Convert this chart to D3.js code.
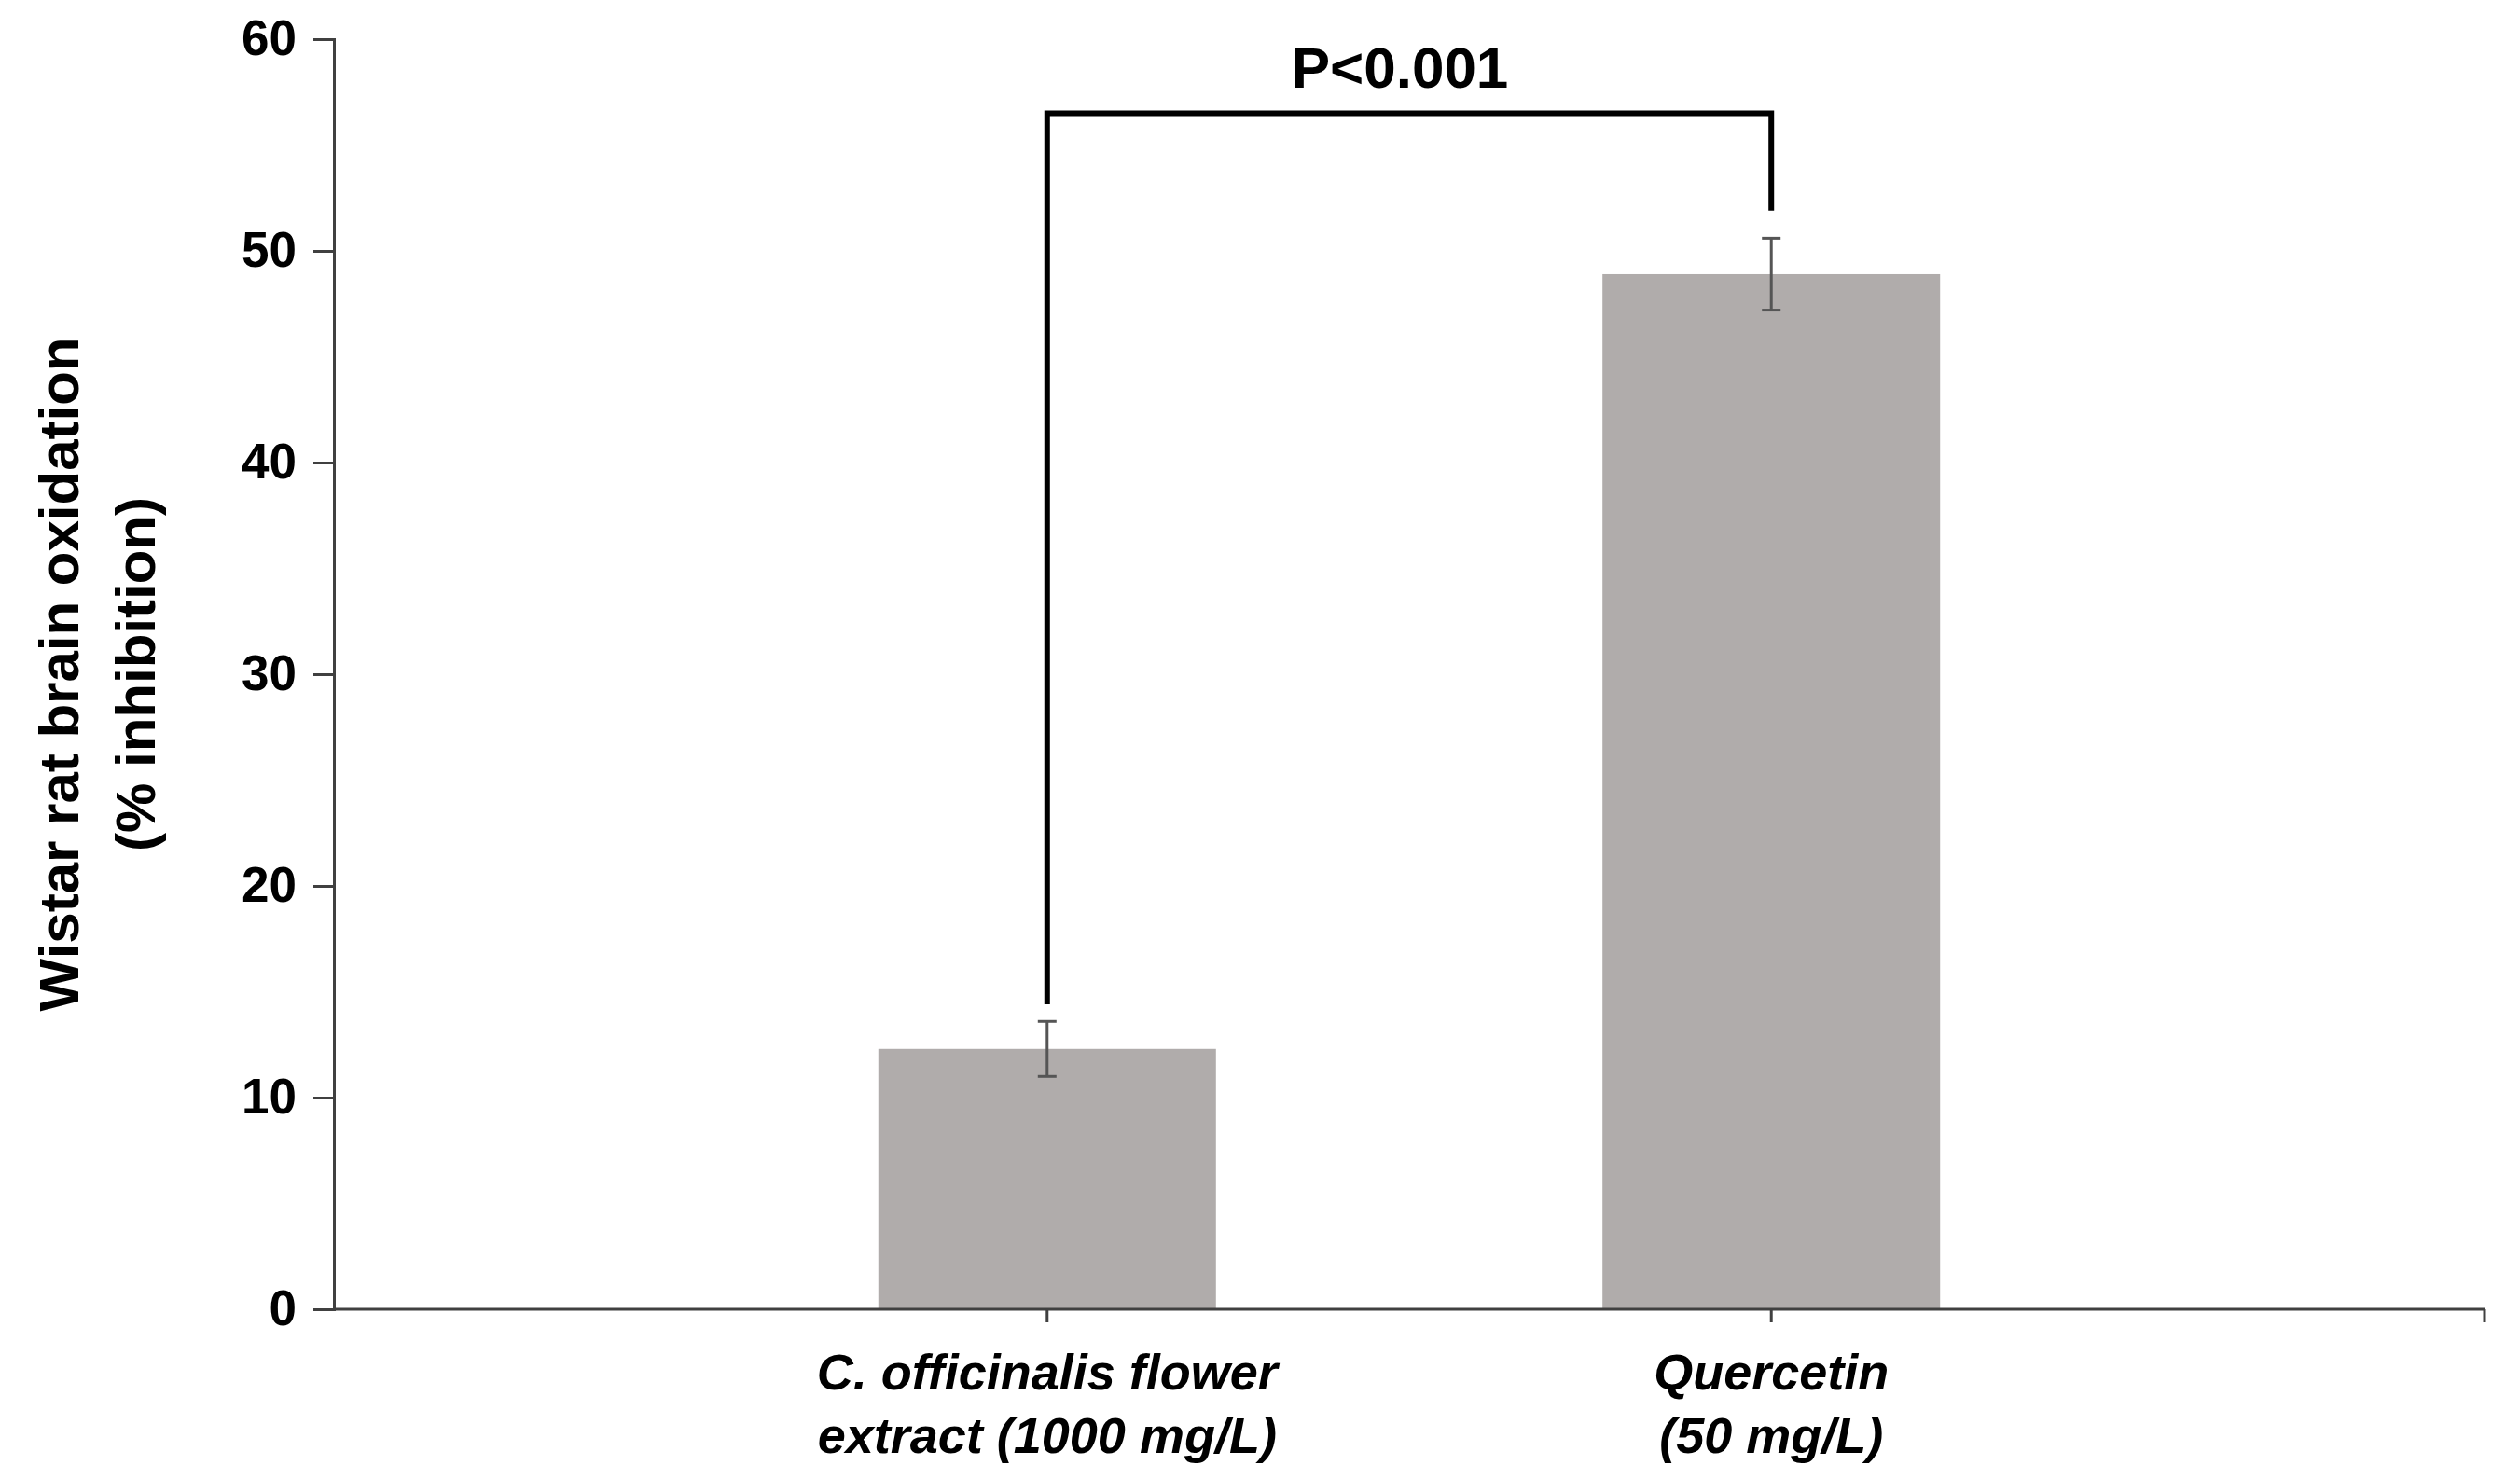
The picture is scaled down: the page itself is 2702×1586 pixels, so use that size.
<!DOCTYPE html>
<html>
<head>
<meta charset="utf-8">
<script src="https://cdn.jsdelivr.net/npm/d3@7"></script>
<style>
  body { margin: 0; background: #fff; }
  text { font-family: "Liberation Sans", Arial, sans-serif; font-weight: bold; }
</style>
</head>
<body>
<div id="chart"></div>
<script>
const categories = ["C. officinalis flower|extract (1000 mg/L)", "Quercetin|(50 mg/L)"];
const values = [12.3, 48.9];
const errors = [1.3, 1.7];
const yTicks = [0, 10, 20, 30, 40, 50, 60];
const bracket = { level: 56.5, leftEnd: 14.4, rightEnd: 51.9, label: "P<0.001" };

const W = 2702, H = 1586;
const margin = { left: 358, right: 38, top: 42, bottom: 187 };
const xEnd = W - margin.right;

const svg = d3.select("#chart").append("svg").attr("width", W).attr("height", H);

// category centres; outer padding chosen so the bars sit as in the figure
const x = d3.scalePoint().domain(categories).range([margin.left, xEnd]).padding(0.985);
const y = d3.scaleLinear().domain([0, 60]).range([H - 182, margin.top]);
const barW = 362;
const cx = d => x(d);

// bars
svg.selectAll("rect.bar").data(categories).enter().append("rect")
  .attr("x", d => cx(d) - barW / 2)
  .attr("y", (d, i) => y(values[i]))
  .attr("width", barW)
  .attr("height", (d, i) => y(0) - y(values[i]))
  .attr("fill", "#b0acab");

// error bars
const eb = svg.append("g").attr("stroke", "#555").attr("stroke-width", 3);
categories.forEach((d, i) => {
  const c = cx(d), t = y(values[i] + errors[i]), b = y(values[i] - errors[i]);
  eb.append("line").attr("x1", c).attr("x2", c).attr("y1", t).attr("y2", b);
  eb.append("line").attr("x1", c - 10).attr("x2", c + 10).attr("y1", t).attr("y2", t);
  eb.append("line").attr("x1", c - 10).attr("x2", c + 10).attr("y1", b).attr("y2", b);
});

// y axis
const yAxis = svg.append("g").attr("transform", `translate(${margin.left},0)`)
  .call(d3.axisLeft(y).tickValues(yTicks).tickSize(22).tickPadding(18));
yAxis.selectAll("text").style("font-size", "53px").attr("fill", "#000");

// x axis
const xAxis = svg.append("g").attr("transform", `translate(0,${y(0)})`);
xAxis.append("line").attr("x1", margin.left).attr("x2", xEnd).attr("y1", 0).attr("y2", 0);
categories.forEach(d => xAxis.append("line").attr("x1", cx(d)).attr("x2", cx(d)).attr("y1", 0).attr("y2", 14));
xAxis.append("line").attr("x1", xEnd).attr("x2", xEnd).attr("y1", 0).attr("y2", 14);
xAxis.selectAll("line").attr("stroke", "#404040").attr("stroke-width", 3);
svg.selectAll(".domain, .tick line").attr("stroke", "#404040").attr("stroke-width", 3);

categories.forEach(d => {
  const lines = d.split("|");
  const t = svg.append("text").attr("text-anchor", "middle")
    .style("font-size", "54px").style("font-style", "italic");
  lines.forEach((l, j) => t.append("tspan").attr("x", cx(d)).attr("y", 1490 + j * 68).text(l));
});

// y title
const yt = svg.append("text").attr("text-anchor", "middle")
  .attr("transform", `translate(0,${(y(0) + y(60)) / 2}) rotate(-90)`)
  .style("font-size", "60px");
yt.append("tspan").attr("x", 0).attr("y", 84).text("Wistar rat brain oxidation");
yt.append("tspan").attr("x", 0).attr("y", 166).text("(% inhibition)");

// significance bracket
const c0 = cx(categories[0]), c1 = cx(categories[1]);
svg.append("path")
  .attr("d", `M${c0},${y(bracket.leftEnd)}V${y(bracket.level)}H${c1}V${y(bracket.rightEnd)}`)
  .attr("fill", "none").attr("stroke", "#000").attr("stroke-width", 6);
svg.append("text").attr("x", (c0 + c1) / 2 - 10).attr("y", 94)
  .attr("text-anchor", "middle").style("font-size", "62px").text(bracket.label);
</script>
</body>
</html>
